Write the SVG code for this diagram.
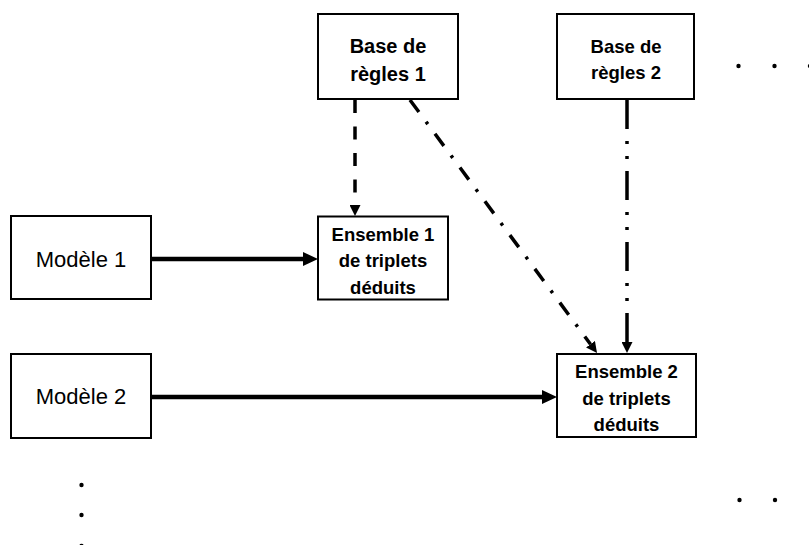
<svg xmlns="http://www.w3.org/2000/svg" width="809" height="545" viewBox="0 0 809 545">
<style>
.box{fill:#fff;stroke:#000;stroke-width:2}
.t{font-family:"Liberation Sans",Arial,sans-serif;fill:#000;text-anchor:middle}
.b{font-weight:bold}
.thick{stroke:#000;stroke-width:4.5;fill:none}
.dash{stroke:#000;stroke-width:3.5;fill:none}
.dot{fill:#000}
</style>
<defs>
<marker id="bigHead" viewBox="0 0 15 14" refX="0" refY="7" markerWidth="15" markerHeight="14" markerUnits="userSpaceOnUse" orient="auto">
<path d="M0,0 L15,7 L0,14 z" fill="#000"/>
</marker>
<marker id="smallHead" viewBox="0 0 11 11" refX="0" refY="5.5" markerWidth="11" markerHeight="11" markerUnits="userSpaceOnUse" orient="auto">
<path d="M0,0 L11,5.5 L0,11 z" fill="#000"/>
</marker>
</defs>
<rect width="809" height="545" fill="#fff"/>
<g id="connectors">
<line class="thick" x1="152" y1="259" x2="303" y2="259" marker-end="url(#bigHead)"/>
<line class="thick" x1="152" y1="397" x2="542" y2="397" marker-end="url(#bigHead)"/>
<line class="dash" x1="355" y1="100" x2="355" y2="205" stroke-dasharray="13 13.5" marker-end="url(#smallHead)"/>
<line class="dash" x1="410" y1="100" x2="590.5" y2="344.2" stroke-dasharray="15 12 3 12" marker-end="url(#smallHead)"/>
<line class="dash" x1="627" y1="100" x2="627" y2="342" stroke-dasharray="29 12 3 12 3 12" marker-end="url(#smallHead)"/>
</g>
<g id="base1">
<rect class="box" x="318" y="14" width="140" height="85"/>
<text class="t b" x="388" y="53" font-size="20">Base de</text>
<text class="t b" x="388" y="81" font-size="20">règles 1</text>
</g>
<g id="base2">
<rect class="box" x="557" y="14" width="137" height="85"/>
<text class="t b" x="626" y="53" font-size="18.5">Base de</text>
<text class="t b" x="626" y="79" font-size="18.5">règles 2</text>
</g>
<g id="modele1">
<rect class="box" x="11" y="216" width="140" height="83"/>
<text class="t" x="81" y="267" font-size="22">Modèle 1</text>
</g>
<g id="modele2">
<rect class="box" x="11" y="354" width="140" height="84"/>
<text class="t" x="81" y="404" font-size="22">Modèle 2</text>
</g>
<g id="ensemble1">
<rect class="box" x="318" y="216.5" width="130" height="83"/>
<text class="t b" x="383" y="241" font-size="18.5">Ensemble 1</text>
<text class="t b" x="383" y="267" font-size="18.5">de triplets</text>
<text class="t b" x="383" y="293.5" font-size="18.5">déduits</text>
</g>
<g id="ensemble2">
<rect class="box" x="557" y="354" width="139" height="83"/>
<text class="t b" x="626.5" y="378" font-size="18.5">Ensemble 2</text>
<text class="t b" x="626.5" y="404.5" font-size="18.5">de triplets</text>
<text class="t b" x="626.5" y="431" font-size="18.5">déduits</text>
</g>
<g id="ellipses">
<circle class="dot" cx="738.5" cy="66" r="2.2"/>
<circle class="dot" cx="774.5" cy="66" r="2.2"/>
<circle class="dot" cx="810" cy="66" r="2.2"/>
<circle class="dot" cx="739.5" cy="500" r="2.2"/>
<circle class="dot" cx="775" cy="500" r="2.2"/>
<circle class="dot" cx="81.5" cy="485" r="2.2"/>
<circle class="dot" cx="81.5" cy="515" r="2.2"/>
<circle class="dot" cx="81.5" cy="546" r="2.2"/>
</g>
</svg>
